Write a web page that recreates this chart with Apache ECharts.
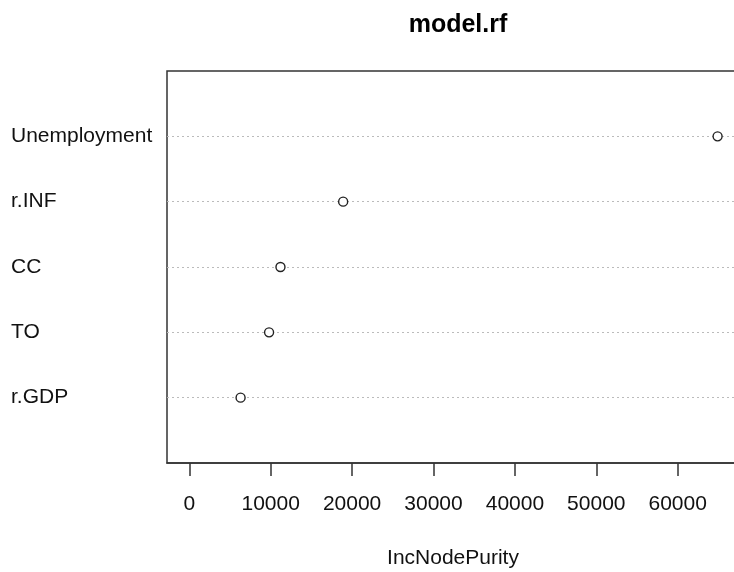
<!DOCTYPE html>
<html>
<head>
<meta charset="utf-8">
<script src="https://cdn.jsdelivr.net/npm/echarts@6/dist/echarts.min.js"></script>
<style>html,body{margin:0;padding:0;background:#fff;overflow:hidden}#c{width:750px;height:572px}</style>
</head>
<body>
<div id="c"></div>
<script>
// Data (top to bottom as shown)
var categories = ['Unemployment', 'r.INF', 'CC', 'TO', 'r.GDP'];
var incNodePurity = [64900, 18900, 11200, 9800, 6300];
var xTickValues = [0, 10000, 20000, 30000, 40000, 50000, 60000];
var titleText = 'model.rf';
var xAxisName = 'IncNodePurity';

var n = categories.length;
var pos = categories.map(function (c, i) { return n - i; });
var points = incNodePurity.map(function (v, i) { return [v, pos[i]]; });
var nameAt = {};
categories.forEach(function (c, i) { nameAt[pos[i]] = c; });

var font = 'Liberation Sans, Arial, sans-serif';
var chart = echarts.init(document.getElementById('c'), null, { renderer: 'canvas' });
chart.setOption({
  animation: false,
  backgroundColor: '#fff',
  title: {
    text: titleText, left: 453, top: 8, textAlign: 'center',
    textStyle: { fontFamily: font, fontSize: 25, fontWeight: 'bold', color: '#000' }
  },
  grid: {
    left: 167, top: 71, width: 572, height: 392, outerBoundsMode: 'none', containLabel: false,
    show: true, borderColor: '#333', borderWidth: 1.5, backgroundColor: 'transparent'
  },
  xAxis: {
    type: 'value', min: -2740, max: 67530,
    name: xAxisName, nameLocation: 'middle', nameGap: 85,
    nameTextStyle: { fontFamily: font, fontSize: 21, color: '#111' },
    axisLine: { show: true, lineStyle: { color: '#333', width: 1.5 } },
    axisTick: { show: true, length: 13, customValues: xTickValues, lineStyle: { color: '#333', width: 1.5 } },
    axisLabel: {
      customValues: xTickValues, margin: 31, fontFamily: font, fontSize: 21, color: '#111',
      formatter: function (v) { return String(v); }
    },
    splitLine: { show: false }
  },
  yAxis: {
    type: 'value', min: 0, max: n + 1, interval: 1,
    axisLine: { show: false }, axisTick: { show: false }, splitLine: { show: false },
    axisLabel: {
      align: 'left', margin: 156, fontFamily: font, fontSize: 21, color: '#111',
      padding: [4, 0, 0, 0],
      formatter: function (v) { return nameAt[v] || ''; }
    }
  },
  series: [{
    type: 'scatter', data: points, symbol: 'circle', symbolSize: 9,
    itemStyle: { color: '#fff', borderColor: '#222', borderWidth: 1.4, opacity: 1 },
    z: 5,
    markLine: {
      silent: true, symbol: ['none', 'none'], label: { show: false },
      lineStyle: { type: [2, 3], color: '#bbb', width: 1 },
      data: pos.map(function (p) { return { yAxis: p }; })
    }
  }]
});
</script>
</body>
</html>
